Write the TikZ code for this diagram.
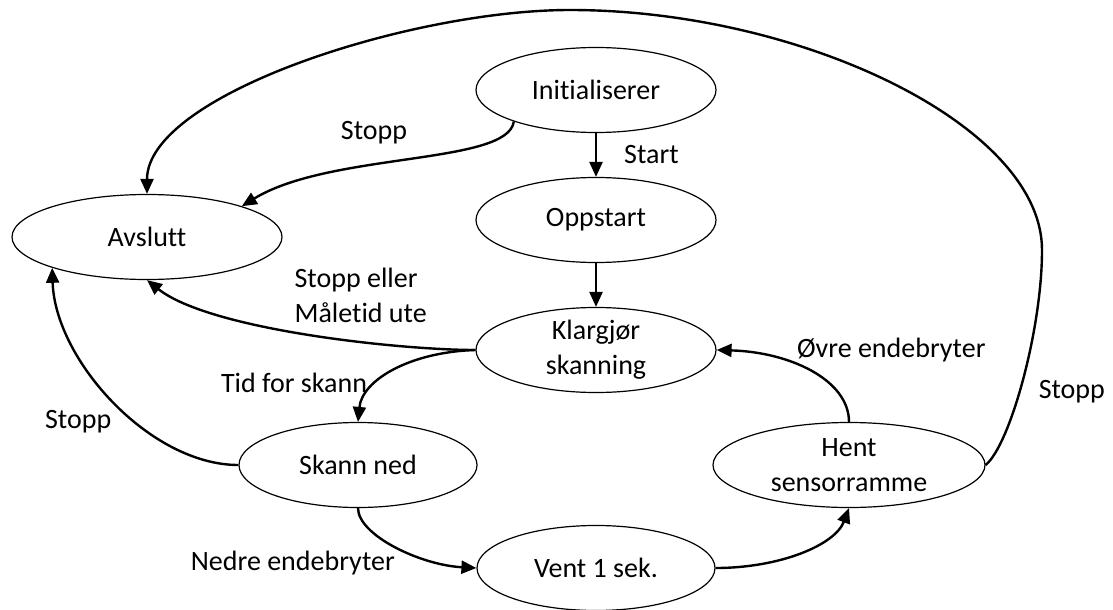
\documentclass[tikz,border=0pt]{standalone}
\usepackage{fontspec}
\setmainfont{Carlito}[Ligatures=NoCommon]
\usetikzlibrary{shapes.geometric,arrows.meta}

\begin{document}
\begin{tikzpicture}[x=1pt,y=-1pt,inner sep=1pt,main/.style = {draw, ellipse, line width=1.2pt, minimum width=240pt, minimum height=85pt, inner sep=0pt, align=center},arr/.style = {-{Triangle[length=15pt,width=13pt]}, line width=2.4pt},node distance={130pt},font=\fontsize{28}{35}\selectfont]
        \fill[white] (0,0) rectangle (1113,610);
        \useasboundingbox (0,0) rectangle (1113,610);
        \node[main] (1) at (596,90) {Initialiserer};
        \node[main] (2) [below of=1] {Oppstart};
        \node[main] (3) [below of=2] {Klargjør\\skanning};
        \node[main, minimum width=270pt] (4) at (147,237) {Avslutt};
        \node[main, minimum width=238pt] (5) at (358,465) {Skann ned};
        \node[main, minimum width=238pt] (6) at (596,568) {Vent 1 sek.};
        \node[main, minimum width=272pt] (7) at (849,465) {Hent\\sensorramme};
        \draw[arr] (1) -- node[midway, right=26pt] {Start} (2);
        \draw[arr] (2) -- (3);
        \draw[arr] (1.201) .. controls (508,165) and (330,152) .. node[pos=0.6, above=19pt] {Stopp} (4.18);
        \draw[arr] (3.west) .. controls (400,350) and (210,330) .. node[pos=0.36, above=17pt, align=left] {Stopp eller\\Måletid ute} (4.south);
        \draw[arr] (3.west) .. controls (410,352) and (362,380) .. node[pos=0.64, left=9pt] {Tid for skann} (5.north);
        \draw[arr] (5.west) .. controls (150,465) and (55,360) .. node[pos=0.4, left=22pt] {Stopp} (4.198);
        \draw[arr] (5.south) .. controls (358,535) and (420,565) .. node[pos=0.7, left=29pt, yshift=-4pt] {Nedre endebryter} (6.west);
        \draw[arr] (6.east) .. controls (780,568) and (835,545) .. (7.south);
        \draw[arr] (7.north) .. controls (849,380) and (790,352) .. node[pos=0.6, above right] {Øvre endebryter} (3.east);
        \draw[arr] (7.east) .. controls (1010,445) and (1042,330) .. node[pos=0.45, right=17pt] {Stopp} (1042,250) .. controls (1042,125) and (800,10) .. (570,10) .. controls (410,10) and (147,95) .. (4.north);
\end{tikzpicture}
\end{document}
